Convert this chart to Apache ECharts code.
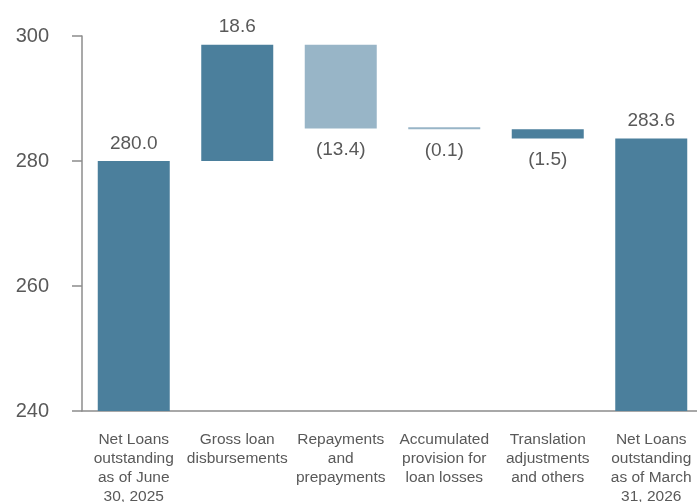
<!DOCTYPE html>
<html>
<head>
<meta charset="utf-8">
<script src="https://cdn.jsdelivr.net/npm/echarts@6/dist/echarts.min.js"></script>
<style>
  html, body { margin: 0; padding: 0; background: #fff; }
  #chart { width: 697px; height: 502px; }
</style>
</head>
<body>
<div id="chart"></div>
<script>
// categories and step values (totals first / last, changes in between)
var categories = [
  'Net Loans\noutstanding\nas of June\n30, 2025',
  'Gross loan\ndisbursements',
  'Repayments\nand\nprepayments',
  'Accumulated\nprovision for\nloan losses',
  'Translation\nadjustments\nand others',
  'Net Loans\noutstanding\nas of March\n31, 2026'
];
var values = [280.0, 18.6, -13.4, -0.1, -1.5, 283.6];
var isTotal = [true, false, false, false, false, true];
var yTicks = { min: 240, max: 300, interval: 20 };

var dark = '#4b7f9c';
var light = '#98b5c7';
var barColors = [dark, dark, light, light, dark, dark];

// build invisible base + visible step
var bases = [], heights = [];
var running = 0;
values.forEach(function (v, i) {
  if (isTotal[i]) {
    bases.push(0);
    heights.push(v);
    running = v;
  } else if (v >= 0) {
    bases.push(running);
    heights.push(v);
    running += v;
  } else {
    running += v;
    bases.push(running);
    heights.push(-v);
  }
});

function fmt(v) {
  return v < 0 ? '(' + Math.abs(v).toFixed(1) + ')' : v.toFixed(1);
}

var textColor = '#595959';
var chart = echarts.init(document.getElementById('chart'));
chart.setOption({
  animation: false,
  textStyle: { fontFamily: 'Liberation Sans, Arial, sans-serif' },
  grid: {
    left: 82, right: -6, top: 36, bottom: 91,
    containLabel: false, outerBoundsMode: 'none'
  },
  xAxis: {
    type: 'category',
    data: categories,
    axisLine: { show: true, lineStyle: { color: '#8c8c8c', width: 1.5 } },
    axisTick: { show: false },
    axisLabel: {
      interval: 0, color: textColor, fontSize: 15.5, lineHeight: 19, margin: 19
    }
  },
  yAxis: {
    type: 'value',
    min: yTicks.min, max: yTicks.max, interval: yTicks.interval,
    axisLine: { show: true, lineStyle: { color: '#8c8c8c', width: 1.5 } },
    axisTick: { show: true, inside: false, length: 10, lineStyle: { color: '#8c8c8c', width: 1.5 } },
    splitLine: { show: false },
    axisLabel: { color: textColor, fontSize: 20, margin: 33 }
  },
  series: [
    {
      type: 'bar', stack: 'w', barWidth: 72,
      itemStyle: { color: 'transparent' },
      emphasis: { disabled: true },
      data: bases
    },
    {
      type: 'bar', stack: 'w', barWidth: 72, barMinHeight: 2,
      data: heights.map(function (h, i) {
        var neg = values[i] < 0;
        return {
          value: h,
          itemStyle: { color: barColors[i] },
          label: {
            show: true,
            position: neg ? 'bottom' : 'top',
            distance: neg ? 12 : 8,
            formatter: fmt(values[i]),
            color: textColor,
            fontSize: 19
          }
        };
      })
    }
  ]
});
</script>
</body>
</html>
